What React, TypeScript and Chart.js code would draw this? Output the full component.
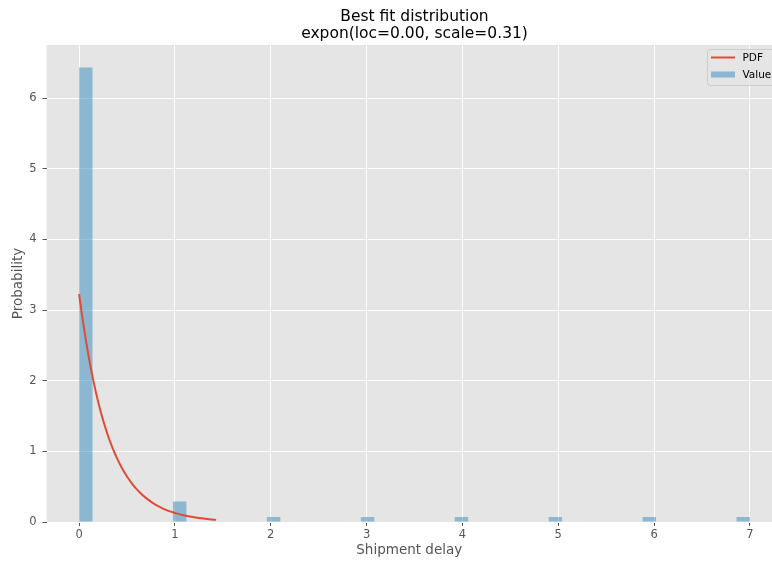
import React, { useEffect, useRef } from "react";
import { Chart, registerables } from "chart.js";

Chart.register(...registerables);

// ---- data ----
const binCenters = [0.07, 1.05, 2.03, 3.01, 3.99, 4.97, 5.95, 6.93];
const binHeights = [6.43, 0.29, 0.07, 0.07, 0.07, 0.07, 0.07, 0.07];
const binWidth = 0.14;

const pdfX = [0, 0.05, 0.1, 0.15, 0.2, 0.25, 0.3, 0.35, 0.4, 0.45, 0.5, 0.55, 0.6, 0.65, 0.7, 0.75, 0.8, 0.85, 0.9, 0.95, 1.0, 1.1, 1.2, 1.3, 1.43];
const pdfY = [3.226, 2.753, 2.342, 1.993, 1.696, 1.443, 1.228, 1.045, 0.889, 0.757, 0.644, 0.548, 0.466, 0.397, 0.338, 0.288, 0.243, 0.207, 0.176, 0.15, 0.128, 0.092, 0.067, 0.048, 0.03];

const xTicks = [0, 1, 2, 3, 4, 5, 6, 7];
const yTicks = [0, 1, 2, 3, 4, 5, 6];

const titleLines = ["Best fit distribution", "expon(loc=0.00, scale=0.31)"];
const xLabel = "Shipment delay";
const yLabel = "Probability";
const legendLabels = ["PDF", "Value"];

const RED = "#E24A33";
const BLUE = "rgba(52,138,189,0.5)";
const FONT = "'DejaVu Sans', sans-serif";

export default function App() {
  const ref = useRef<HTMLCanvasElement | null>(null);

  useEffect(() => {
    if (!ref.current) return;
    let minGap = Infinity;
    for (let i = 1; i < binCenters.length; i++) minGap = Math.min(minGap, binCenters[i] - binCenters[i - 1]);

    const bgPlugin = {
      id: "bg",
      beforeDraw(chart: any) {
        const { ctx, chartArea: a } = chart;
        ctx.save();
        ctx.fillStyle = "#E5E5E5";
        ctx.fillRect(a.left, a.top, a.right - a.left, a.bottom - a.top);
        ctx.restore();
      },
    };

    const decoPlugin = {
      id: "deco",
      afterDraw(chart: any) {
        const { ctx } = chart;
        const xs = chart.scales.x;
        ctx.save();
        // title
        ctx.fillStyle = "#000";
        ctx.font = `15.5px ${FONT}`;
        ctx.textAlign = "center";
        ctx.textBaseline = "alphabetic";
        const cx = xs.getPixelForValue(3.5);
        ctx.fillText(titleLines[0], cx, 20.5);
        ctx.fillText(titleLines[1], cx, 38);

        // legend
        const lx = 707.5, ly = 49.5, lw = 80, lh = 36;
        ctx.fillStyle = "rgba(229,229,229,0.8)";
        ctx.strokeStyle = "#CCCCCC";
        ctx.lineWidth = 1;
        ctx.beginPath();
        if ((ctx as any).roundRect) (ctx as any).roundRect(lx, ly, lw, lh, 3);
        else ctx.rect(lx, ly, lw, lh);
        ctx.fill();
        ctx.stroke();

        ctx.strokeStyle = RED;
        ctx.lineWidth = 2;
        ctx.beginPath();
        ctx.moveTo(711, 57.5);
        ctx.lineTo(735, 57.5);
        ctx.stroke();
        ctx.fillStyle = BLUE;
        ctx.fillRect(711, 71.5, 24, 6);

        ctx.fillStyle = "#000";
        ctx.font = `10.5px ${FONT}`;
        ctx.textAlign = "left";
        ctx.textBaseline = "middle";
        ctx.fillText(legendLabels[0], 742.5, 58);
        ctx.fillText(legendLabels[1], 742.5, 75.5);
        ctx.restore();
      },
    };

    const chart = new Chart(ref.current, {
      type: "bar",
      data: {
        datasets: [
          {
            type: "line",
            label: legendLabels[0],
            data: pdfX.map((x, i) => ({ x, y: pdfY[i] })),
            borderColor: RED,
            borderWidth: 2,
            pointRadius: 0,
            tension: 0.4,
            fill: false,
            order: 0,
          } as any,
          {
            type: "bar",
            label: legendLabels[1],
            data: binCenters.map((x, i) => ({ x, y: binHeights[i] })),
            backgroundColor: BLUE,
            borderWidth: 0,
            barPercentage: binWidth / minGap,
            categoryPercentage: 1,
            grouped: false,
            order: 1,
          } as any,
        ],
      },
      options: {
        responsive: false,
        animation: false,
        layout: { padding: { top: 45, left: 0, right: 0, bottom: 0 } },
        plugins: {
          legend: { display: false },
          tooltip: { enabled: false },
          title: { display: false },
        },
        scales: {
          x: {
            type: "linear",
            min: -0.34,
            max: 7.23,
            offset: false,
            afterBuildTicks: (s: any) => {
              s.ticks = xTicks.map((v) => ({ value: v }));
            },
            afterFit: (s: any) => {
              s.height = 41;
            },
            grid: {
              offset: false,
              color: "#FFFFFF",
              lineWidth: 1,
              drawTicks: true,
              tickLength: 4,
              tickColor: "#555555",
            },
            border: { display: false },
            ticks: {
              color: "#555555",
              font: { family: FONT, size: 11.5 },
              padding: 2,
              maxRotation: 0,
              autoSkip: false,
            },
            title: {
              display: true,
              text: xLabel,
              color: "#555555",
              font: { family: FONT, size: 13.5 },
              padding: { top: 4, bottom: 4 },
            },
          },
          y: {
            type: "linear",
            min: 0,
            max: 6.75,
            afterBuildTicks: (s: any) => {
              s.ticks = yTicks.map((v) => ({ value: v }));
            },
            afterFit: (s: any) => {
              s.width = 46.5;
            },
            grid: {
              color: "#FFFFFF",
              lineWidth: 1,
              drawTicks: true,
              tickLength: 4,
              tickColor: "#555555",
            },
            border: { display: false },
            ticks: {
              color: "#555555",
              font: { family: FONT, size: 11.5 },
              padding: 6,
            },
            title: {
              display: true,
              text: yLabel,
              color: "#555555",
              font: { family: FONT, size: 13.5 },
              padding: { top: 10, bottom: 10 },
            },
          },
        },
      } as any,
      plugins: [bgPlugin, decoPlugin],
    });
    return () => chart.destroy();
  }, []);

  return (
    <div style={{ position: "fixed", left: 0, top: 0, width: 772, height: 563, background: "#fff" }}>
      <canvas ref={ref} width={772} height={563} style={{ width: 772, height: 563, display: "block" }} />
    </div>
  );
}
